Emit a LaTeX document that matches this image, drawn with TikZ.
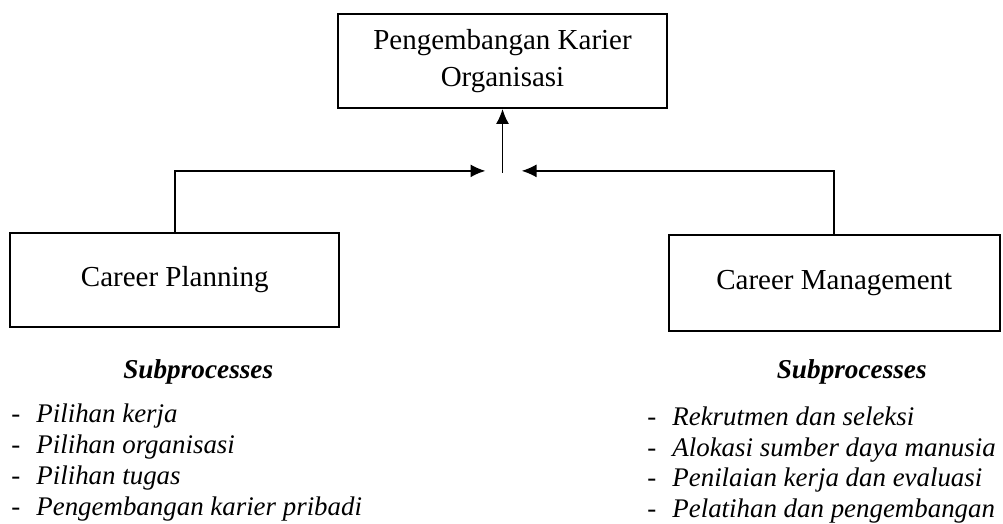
\documentclass[tikz,border=0pt]{standalone}
\usepackage{fontspec}
\setmainfont{Liberation Serif}
\usetikzlibrary{positioning, arrows.meta}
\tikzset{
    careerbox/.style={
        draw, rectangle, line width=1pt, minimum width=6.58cm, minimum height=1.88cm,
        align=center, font=\fontsize{16.5}{21}\selectfont
    },
    subhead/.style={inner sep=0pt, font=\fontsize{15.5}{18}\selectfont\bfseries\itshape},
    sublist/.style={inner sep=0pt, align=left, font=\fontsize{15.3}{17.6}\selectfont\itshape},
    flow/.style={-{Latex[length=3mm, width=2.6mm]}, line width=1pt}
}

\begin{document}
\begin{tikzpicture}[node distance=2.46cm and -0.06cm]
    \useasboundingbox (0,0) rectangle (20.06,-10.48);
    \node[careerbox] (org) at (10.05,-1.22) {Pengembangan Karier\\Organisasi};
    \node[careerbox, below left=of org] (plan) {Career Planning};
    \node[careerbox, below right=2.5cm and 0cm of org, minimum width=6.62cm, minimum height=1.92cm] (mgmt) {Career Management};

    \node[subhead, below=0.63cm of plan, xshift=0.47cm] (plansub) {Subprocesses};
    \node[subhead, below=0.55cm of mgmt, xshift=0.35cm] (mgmtsub) {Subprocesses};

    \node[sublist, anchor=west] (planlist) at (0.22,-9.25) {-\hspace{0.6em}Pilihan kerja\\
        -\hspace{0.6em}Pilihan organisasi\\
        -\hspace{0.6em}Pilihan tugas\\
        -\hspace{0.6em}Pengembangan karier pribadi};
    \node[sublist, anchor=west] (mgmtlist) at (12.94,-9.3) {-\hspace{0.6em}Rekrutmen dan seleksi\\
        -\hspace{0.6em}Alokasi sumber daya manusia\\
        -\hspace{0.6em}Penilaian kerja dan evaluasi\\
        -\hspace{0.6em}Pelatihan dan pengembangan};

    \coordinate (join) at ([yshift=-1.24cm]org.south);
    \draw[flow] ([yshift=-0.04cm]join) -- (org.south);
    \draw[flow] (plan.north) |- ([xshift=-0.34cm]join);
    \draw[flow] (mgmt.north) |- ([xshift=0.38cm]join);
\end{tikzpicture}
\end{document}
